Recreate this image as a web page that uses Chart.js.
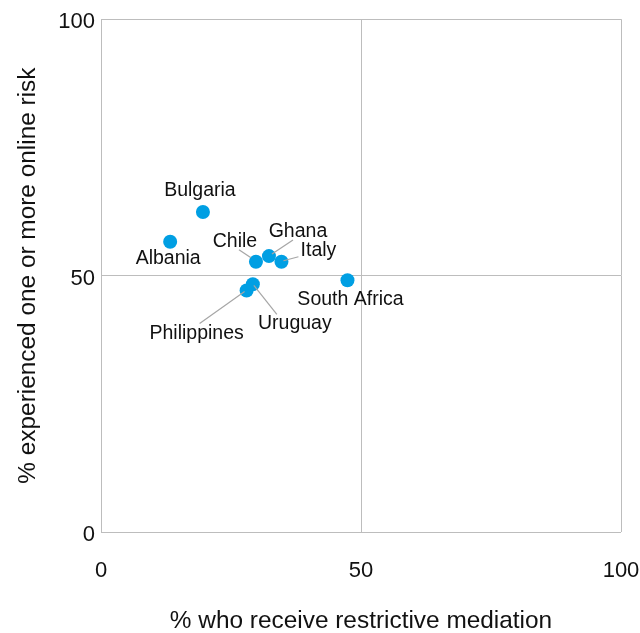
<!DOCTYPE html>
<html>
<head>
<meta charset="utf-8">
<script src="https://cdn.jsdelivr.net/npm/chart.js@4.4.1/dist/chart.umd.min.js"></script>
<style>
  html, body { margin: 0; padding: 0; background: #fff; }
  #wrap { width: 640px; height: 633px; }
</style>
</head>
<body>
<div id="wrap"><canvas id="riskChart"></canvas></div>
<script>
// Countries and values
const countries = ["Bulgaria", "Albania", "Chile", "Ghana", "Italy", "South Africa", "Philippines", "Uruguay"];
const restrictive = [19.6, 13.3, 29.8, 32.3, 34.7, 47.4, 28.0, 29.2];
const onlineRisk = [62.4, 56.6, 52.7, 53.8, 52.7, 49.1, 47.1, 48.3];
const axisTicks = [0, 50, 100];

// label placement relative to each dot (px): text centre, optional leader line
const labelPlace = {
  "Bulgaria": { dx: -3, dy: -21 },
  "Albania": { dx: -2, dy: 17 },
  "Chile": { dx: -21, dy: -20, line: [-5, -4, -17, -12] },
  "Ghana": { dx: 29, dy: -24, line: [3, -2, 24, -16] },
  "Italy": { dx: 37, dy: -11, line: [2, -1, 17, -5] },
  "South Africa": { dx: 3, dy: 19 },
  "Philippines": { dx: -50, dy: 43, line: [-2, 1, -47, 33] },
  "Uruguay": { dx: 42, dy: 39, line: [1, 1, 24, 30] },
};

const FONT = "'Liberation Sans', Arial, sans-serif";
const GRID = "#bdbdbd";

const pointLabels = {
  id: "pointLabels",
  afterDatasetsDraw(chart) {
    const ctx = chart.ctx;
    const meta = chart.getDatasetMeta(0);
    ctx.save();
    ctx.font = "19.5px " + FONT;
    ctx.textAlign = "center";
    ctx.textBaseline = "middle";
    meta.data.forEach((pt, i) => {
      const p = labelPlace[countries[i]];
      if (p.line) {
        ctx.strokeStyle = "#a6a6a6";
        ctx.lineWidth = 1.2;
        ctx.beginPath();
        ctx.moveTo(pt.x + p.line[0], pt.y + p.line[1]);
        ctx.lineTo(pt.x + p.line[2], pt.y + p.line[3]);
        ctx.stroke();
      }
      ctx.fillStyle = "#111";
      ctx.fillText(countries[i], pt.x + p.dx, pt.y + p.dy);
    });
    ctx.restore();
  },
};

new Chart(document.getElementById("riskChart"), {
  type: "scatter",
  data: {
    datasets: [
      {
        label: "Countries",
        data: restrictive.map((x, i) => ({ x: x, y: onlineRisk[i] })),
        backgroundColor: "#009fe3",
        borderWidth: 0,
        pointRadius: 7,
        pointHoverRadius: 7,
      },
    ],
  },
  options: {
    responsive: true,
    maintainAspectRatio: false,
    animation: false,
    layout: { padding: { top: 19, right: 0, left: 0, bottom: 0 } },
    plugins: { legend: { display: false }, tooltip: { enabled: false } },
    scales: {
      x: {
        type: "linear",
        min: 0,
        max: 100,
        afterBuildTicks: (s) => { s.ticks = axisTicks.map((v) => ({ value: v })); },
        afterFit: (s) => { s.height = 101; s.paddingLeft = 0; s.paddingRight = 19; },
        grid: { color: GRID, drawTicks: false, lineWidth: 1 },
        border: { display: false },
        ticks: { padding: 26, color: "#111", font: { family: FONT, size: 22 }, maxRotation: 0 },
        title: {
          display: true,
          text: "% who receive restrictive mediation",
          color: "#111",
          font: { family: FONT, size: 24.4, lineHeight: 1 },
          padding: { top: 0, bottom: 0 },
        },
      },
      y: {
        type: "linear",
        min: 0,
        max: 100,
        afterBuildTicks: (s) => { s.ticks = axisTicks.map((v) => ({ value: v })); },
        afterFit: (s) => { s.width = 101; },
        grid: { color: GRID, drawTicks: false, lineWidth: 1 },
        border: { display: false },
        ticks: { padding: 6, labelOffset: 3, color: "#111", font: { family: FONT, size: 22 } },
        title: {
          display: true,
          text: "% experienced one or more online risk",
          color: "#111",
          font: { family: FONT, size: 24.4, lineHeight: 1 },
          padding: { top: 16, bottom: 0 },
        },
      },
    },
  },
  plugins: [pointLabels],
});
</script>
</body>
</html>
